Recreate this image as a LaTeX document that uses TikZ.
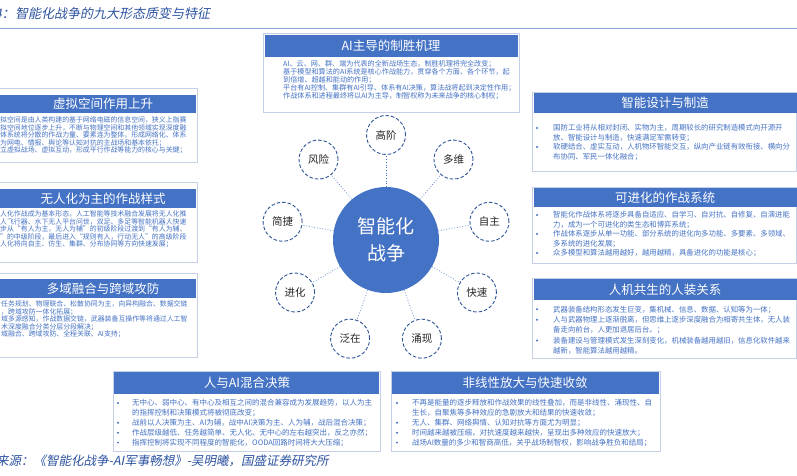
\documentclass[tikz,border=0pt]{standalone}
\usepackage{fontspec}
\setmainfont{Noto Sans CJK SC}
\newfontfamily\kai[FakeSlant=0.2]{Noto Sans CJK SC}
\usetikzlibrary{calc}
\definecolor{hdr}{HTML}{4472C4}
\definecolor{txt}{HTML}{4472C4}
\definecolor{frm}{HTML}{C5CFE6}
\definecolor{ttl}{HTML}{2E54A1}
\definecolor{dsh}{HTML}{2F5597}
\definecolor{rule}{HTML}{8EA9DB}
\tikzset{
  frame/.style={draw=frm, line width=0.8pt, fill=white},
  htext/.style={text=white, inner sep=0, font=\fontsize{12.5}{14}\selectfont},
  lbody/.style={anchor=north west, align=left, inner sep=0, text=txt, font=\fontsize{6.9}{7.5}\selectfont},
  rbody/.style={anchor=north west, align=left, inner sep=0, text=txt, font=\fontsize{7.4}{9.5}\selectfont},
  bbody/.style={anchor=north west, align=left, inner sep=0, text=txt, font=\fontsize{7.5}{9.9}\selectfont},
  bul/.style={circle, fill=txt, inner sep=0, minimum size=2.2pt},
  sat/.style={circle, draw=dsh, dash pattern=on 3.5pt off 2pt, line width=0.9pt, minimum size=39pt, inner sep=0, text=black!85, font=\fontsize{10.5}{12}\selectfont},
  hub/.style={circle, fill=hdr, minimum size=106pt, inner sep=0, text=white, align=center, font=\fontsize{19}{27}\selectfont},
  conn/.style={draw=hdr, line width=0.7pt, dotted}
}
\begin{document}
\begin{tikzpicture}[x=1pt,y=-1pt]
\useasboundingbox (0,0) rectangle (797,475);
\clip (0,0) rectangle (797,475);
\fill[white] (0,0) rectangle (797,475);

% title
\node[anchor=east, inner sep=0, text=ttl, font=\kai\fontsize{13}{15}\selectfont] (t0) at (15,14) {图4：};
\node[anchor=west, inner sep=0, text=ttl, font=\kai\fontsize{13}{15}\selectfont] (t1) at (15,14) {智能化战争的九大形态质变与特征};
\draw[rule, line width=1pt] (0,28) -- (797,28);

% top panel
\draw[frame] (263,33) rectangle (519,112);
\fill[hdr] (264.5,34.5) rectangle (517.5,57);
\node[htext] (th) at (391,45.5) {AI主导的制胜机理};
\node[anchor=north west, align=left, inner sep=0, text=txt, font=\fontsize{7.1}{7.9}\selectfont] (tb) at (283,60.5)
 {AI、云、网、群、端为代表的全新战场生态，制胜机理将完全改变；\\
  基于模型和算法的AI系统是核心作战能力，贯穿各个方面、各个环节，起\\
  到倍增、超越和能动的作用；\\
  平台有AI控制、集群有AI引导、体系有AI决策，算法战将起到决定性作用；\\
  作战体系和进程最终将以AI为主导，制智权称为未来战争的核心制权；};

% left panels
\draw[frame] (-2,88) rectangle (197,162);
\fill[hdr] (-2,94.5) rectangle (195.5,113);
\node[htext] (l1h) at (103,104) {虚拟空间作用上升};
\node[lbody] (l1b) at (0,116.5)
 {拟空间是由人类构建的基于网络电磁的信息空间，狭义上指赛\\
  拟空间地位逐步上升，不断与物理空间和其他领域实现深度融\\
  体系统将分散的作战力量、要素连为整体，形成网络化、体系\\
  为网电、情报、舆论等认知对抗的主战场和基本依托；\\
  立虚拟战场、虚拟互动，形成平行作战等能力的核心与关键；};

\draw[frame] (-2,182) rectangle (197,262);
\fill[hdr] (-2,189) rectangle (195.5,208);
\node[htext] (l2h) at (103,198.5) {无人化为主的作战样式};
\node[lbody] (l2b) at (0,210.5)
 {人化作战成为基本形态，人工智能等技术融合发展将无人化推\\
  人飞行器、水下无人平台问世，双足、多足等智能机器人快速\\
  步从“有人为主，无人为辅”的初级阶段过渡到“有人为辅、\\
  ”的中级阶段，最后进入“规则有人，行动无人”的高级阶段\\
  人化将向自主、仿生、集群、分布协同等方向快速发展；};

\draw[frame] (-2,273) rectangle (197,357);
\fill[hdr] (-2,279) rectangle (195.5,298);
\node[htext] (l3h) at (103,288.5) {多域融合与跨域攻防};
\node[lbody] (l3b) at (1,300.5)
 {任务规划、物理联合、松散协同为主，向异构融合、数据交链\\
  ，跨域攻防一体化拓展；\\
  域多源感知，作战数据交链，武器装备互操作等将通过人工智\\
  术深度融合分类分层分段解决；\\
  域融合、跨域攻防、全程关联、AI支持；};

% right panels
\draw[frame] (532,92) rectangle (796,171);
\fill[hdr] (533.5,93) rectangle (797,113);
\node[htext] (r1h) at (665,103) {智能设计与制造};
\node[rbody] (r1b) at (553,124.3)
 {国防工业将从相对封闭、实物为主，周期较长的研究制造模式向开源开\\
  放、智能设计与制造，快速满足军需转变；\\
  软硬结合、虚实互动，人机物环智能交互，纵向产业链有效衔接、横向分\\
  布协同、军民一体化融合；};
\node[bul] (r1a) at (537,128) {};
\node[bul] (r1c) at (537,147) {};

\draw[frame] (532,187) rectangle (796,263);
\fill[hdr] (533.5,188) rectangle (797,207);
\node[htext] (r2h) at (665,197.5) {可进化的作战系统};
\node[rbody] (r2b) at (553,211.3)
 {智能化作战体系将逐步具备自适应、自学习、自对抗、自修复、自演进能\\
  力，成为一个可进化的类生态和博弈系统；\\
  作战体系逐步从单一功能、部分系统的进化向多功能、多要素、多领域、\\
  多系统的进化发展；\\
  众多模型和算法越用越好，越用越精，具备进化的功能是核心；};
\node[bul] (r2a) at (537,215) {};
\node[bul] (r2c) at (537,234) {};
\node[bul] (r2e) at (537,253) {};

\draw[frame] (532,278) rectangle (796,358);
\fill[hdr] (533.5,279) rectangle (797,300);
\node[htext] (r3h) at (665,289.5) {人机共生的人装关系};
\node[anchor=north west, align=left, inner sep=0, text=txt, font=\fontsize{7.4}{10.4}\selectfont] (r3b) at (553,305.6)
 {武器装备结构形态发生巨变，集机械、信息、数据、认知等为一体；\\
  人与武器物理上逐渐脱离，但思维上逐步深度融合为相寄共生体，无人装\\
  备走向前台，人更加退居后台。；\\
  装备建设与管理模式发生深刻变化，机械装备越用越旧，信息化软件越来\\
  越新，智能算法越用越精。};
\node[bul] (r3a) at (537,309.3) {};
\node[bul] (r3c) at (537,319.7) {};
\node[bul] (r3e) at (537,340.5) {};

% bottom panels
\draw[frame] (113,371) rectangle (380,451);
\fill[hdr] (114,372) rectangle (379,394);
\node[htext] (b1h) at (247,383) {人与AI混合决策};
\node[bbody] (b1b) at (132,399.3)
 {无中心、弱中心、有中心及相互之间的混合兼容成为发展趋势，以人为主\\
  的指挥控制和决策模式将被彻底改变；\\
  战前以人决策为主、AI为辅，战中AI决策为主、人为辅，战后混合决策；\\
  作战层级越低、任务越简单、无人化、无中心的左右越突出，反之亦然；\\
  指挥控制将实现不同程度的智能化，OODA回路时间将大大压缩；};
\node[bul] (b1p) at (118,403) {};
\node[bul] (b1q) at (118,422.8) {};
\node[bul] (b1r) at (118,432.7) {};
\node[bul] (b1s) at (118,442.6) {};

\draw[frame] (391,371) rectangle (660,451);
\fill[hdr] (392,372) rectangle (659,394);
\node[htext] (b2h) at (525,383) {非线性放大与快速收敛};
\node[bbody] (b2b) at (412,399.3)
 {不再是能量的逐步释放和作战效果的线性叠加，而是非线性、涌现性、自\\
  生长，自聚焦等多种效应的急剧放大和结果的快速收敛；\\
  无人、集群、网络舆情、认知对抗等方面尤为明显；\\
  时间越来越被压缩，对抗速度越来越快，呈现出多种效应的快速放大；\\
  战场AI数量的多少和智商高低，关乎战场制智权，影响战争胜负和结局；};
\node[bul] (b2p) at (397,403) {};
\node[bul] (b2q) at (397,422.8) {};
\node[bul] (b2r) at (397,432.7) {};
\node[bul] (b2s) at (397,442.6) {};

% hub and satellites
\node[hub] (c) at (386,240) {智能化\\战争};
\foreach \a/\t/\n in {90/高阶/s1, 50/多维/s2, 10/自主/s3, -30/快速/s4, -70/涌现/s5, -110/泛在/s6, -150/进化/s7, 170/简捷/s8, 130/风险/s9} {
  \node[sat] (\n) at ($(c)+(-\a:105)$) {\t};
  \draw[conn] (c) -- (\n);
}

% footer
\node[anchor=west, inner sep=0, text=ttl, font=\kai\fontsize{12.5}{14}\selectfont] (src) at (-4,461) {来源：《智能化战争-AI军事畅想》-吴明曦，国盛证券研究所};
\end{tikzpicture}
\end{document}
